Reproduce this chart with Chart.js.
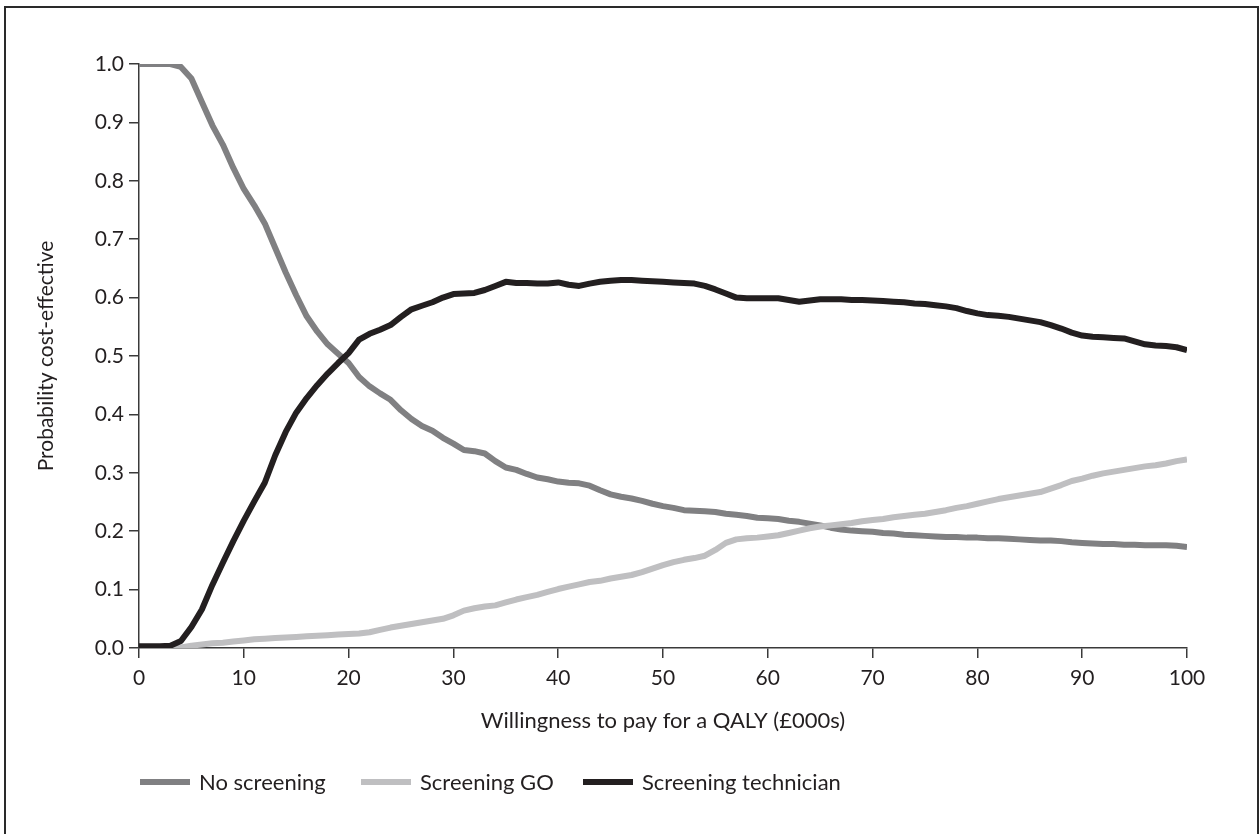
<!DOCTYPE html>
<html>
<head>
<meta charset="utf-8">
<script src="https://cdn.jsdelivr.net/npm/chart.js@4/dist/chart.umd.min.js"></script>
<style>
  html, body { margin: 0; padding: 0; background: #ffffff; overflow: hidden; }
  #wrap { position: relative; width: 1259px; height: 834px; }
  #c { position: absolute; left: 0; top: 0; }
  #frame { position: absolute; left: 4px; top: 6px; width: 1251px; height: 900px;
           border: 2px solid #2a2a2a; border-bottom: none; pointer-events: none; }
</style>
</head>
<body>
<div id="wrap">
  <canvas id="c" width="1259" height="834"></canvas>
  <div id="frame"></div>
</div>
<script>
// Willingness to pay for a QALY (£000s)
const wtp = [0,1,2,3,4,5,6,7,8,9,10,11,12,13,14,15,16,17,18,19,20,21,22,23,24,25,26,27,28,29,30,31,32,33,34,35,36,37,38,39,40,41,42,43,44,45,46,47,48,49,50,51,52,53,54,55,56,57,58,59,60,61,62,63,64,65,66,67,68,69,70,71,72,73,74,75,76,77,78,79,80,81,82,83,84,85,86,87,88,89,90,91,92,93,94,95,96,97,98,99,100];

const noScreening = [1.0,1.0,1.0,1.0,0.995,0.975,0.935,0.895,0.862,0.822,0.786,0.758,0.727,0.685,0.643,0.604,0.568,0.542,0.520,0.504,0.488,0.464,0.448,0.436,0.425,0.407,0.392,0.380,0.372,0.360,0.350,0.339,0.337,0.333,0.320,0.309,0.305,0.298,0.292,0.289,0.285,0.283,0.282,0.278,0.270,0.263,0.259,0.256,0.252,0.247,0.243,0.240,0.236,0.235,0.234,0.233,0.230,0.228,0.226,0.223,0.222,0.221,0.218,0.216,0.213,0.210,0.206,0.203,0.201,0.200,0.199,0.197,0.196,0.194,0.193,0.192,0.191,0.190,0.190,0.189,0.189,0.188,0.188,0.187,0.186,0.185,0.184,0.184,0.183,0.181,0.180,0.179,0.178,0.178,0.177,0.177,0.176,0.176,0.176,0.175,0.173];

const screeningGO = [0,0,0,0,0.001,0.004,0.006,0.008,0.009,0.011,0.013,0.015,0.016,0.017,0.018,0.019,0.020,0.021,0.022,0.023,0.024,0.025,0.027,0.031,0.035,0.038,0.041,0.044,0.047,0.050,0.056,0.064,0.068,0.071,0.073,0.078,0.083,0.087,0.091,0.096,0.101,0.105,0.109,0.113,0.115,0.119,0.122,0.125,0.130,0.136,0.142,0.147,0.151,0.154,0.158,0.168,0.180,0.186,0.188,0.189,0.191,0.193,0.197,0.201,0.205,0.208,0.210,0.212,0.214,0.217,0.219,0.221,0.224,0.226,0.228,0.230,0.233,0.236,0.240,0.243,0.247,0.251,0.255,0.258,0.261,0.264,0.267,0.273,0.279,0.286,0.290,0.295,0.299,0.302,0.305,0.308,0.311,0.313,0.316,0.320,0.323];

const screeningTech = [0.003,0.003,0.003,0.004,0.012,0.036,0.066,0.108,0.146,0.183,0.218,0.251,0.283,0.330,0.370,0.403,0.428,0.450,0.470,0.488,0.505,0.528,0.538,0.545,0.553,0.567,0.580,0.586,0.592,0.600,0.606,0.607,0.608,0.613,0.620,0.627,0.625,0.625,0.624,0.624,0.626,0.622,0.620,0.624,0.627,0.629,0.630,0.630,0.629,0.628,0.627,0.626,0.625,0.624,0.620,0.614,0.607,0.600,0.599,0.599,0.599,0.599,0.596,0.593,0.595,0.597,0.597,0.597,0.596,0.596,0.595,0.594,0.593,0.592,0.590,0.589,0.587,0.585,0.582,0.577,0.573,0.570,0.569,0.567,0.564,0.561,0.558,0.553,0.547,0.540,0.535,0.533,0.532,0.531,0.530,0.525,0.520,0.518,0.517,0.515,0.510];

const seriesNames = ["No screening", "Screening GO", "Screening technician"];
const xTicks = [0,10,20,30,40,50,60,70,80,90,100];
const yTicks = [0.0,0.1,0.2,0.3,0.4,0.5,0.6,0.7,0.8,0.9,1.0];
const xTitle = "Willingness to pay for a QALY (£000s)";
const yTitle = "Probability cost-effective";

const FONT = "Lato, 'Open Sans', sans-serif";
const colors = ["#808082", "#bfbfc1", "#231f20"];

function pts(ys) { return wtp.map((x, i) => ({ x: x, y: ys[i] })); }

const legendPlugin = {
  id: 'customLegend',
  afterDraw(chart) {
    const ctx = chart.ctx;
    const starts = [140, 361, 583];
    const yMid = 782;
    ctx.save();
    ctx.font = "22px " + FONT;
    ctx.textBaseline = 'middle';
    ctx.textAlign = 'left';
    chart.data.datasets.forEach((ds, i) => {
      const x0 = starts[i];
      ctx.fillStyle = ds.borderColor;
      ctx.fillRect(x0, yMid - 3, 50, 6);
      ctx.fillStyle = '#231f20';
      ctx.fillText(ds.label, x0 + 59, yMid + 1);
    });
    ctx.restore();
  }
};

new Chart(document.getElementById('c'), {
  type: 'line',
  data: {
    datasets: [
      { label: seriesNames[0], data: pts(noScreening), borderColor: colors[0], backgroundColor: colors[0], order: 2 },
      { label: seriesNames[1], data: pts(screeningGO), borderColor: colors[1], backgroundColor: colors[1], order: 1 },
      { label: seriesNames[2], data: pts(screeningTech), borderColor: colors[2], backgroundColor: colors[2], order: 0 }
    ]
  },
  options: {
    responsive: false,
    animation: false,
    devicePixelRatio: 1,
    elements: {
      line: { borderWidth: 6, tension: 0, borderCapStyle: 'butt', borderJoinStyle: 'round', fill: false },
      point: { radius: 0, hoverRadius: 0 }
    },
    layout: { padding: { left: 0, top: 64, right: 72, bottom: 66 } },
    plugins: { legend: { display: false }, tooltip: { enabled: false } },
    scales: {
      x: {
        type: 'linear', min: 0, max: 100,
        afterBuildTicks: (s) => { s.ticks = xTicks.map(v => ({ value: v })); },
        afterFit: (s) => { s.height = 120; },
        grid: { drawOnChartArea: false, drawTicks: true, tickLength: 10, color: '#3a3a3a', lineWidth: 1.5 },
        border: { display: true, color: '#3a3a3a', width: 1.5 },
        ticks: { color: '#231f20', font: { family: FONT, size: 21 }, padding: 8, maxRotation: 0,
                 callback: (v) => String(v) },
        title: { display: true, text: xTitle, color: '#231f20', font: { family: FONT, size: 22 },
                 padding: { top: 0, bottom: 34 } }
      },
      y: {
        type: 'linear', min: 0, max: 1,
        afterBuildTicks: (s) => { s.ticks = yTicks.map(v => ({ value: v })); },
        afterFit: (s) => { s.width = 139; },
        grid: { drawOnChartArea: false, drawTicks: true, tickLength: 10, color: '#3a3a3a', lineWidth: 1.5 },
        border: { display: true, color: '#3a3a3a', width: 1.5 },
        ticks: { color: '#231f20', font: { family: FONT, size: 21 }, padding: 5,
                 callback: (v) => Number(v).toFixed(1) },
        title: { display: true, text: yTitle, color: '#231f20', font: { family: FONT, size: 21 },
                 padding: { top: 34, bottom: 0 } }
      }
    }
  },
  plugins: [legendPlugin]
});
</script>
</body>
</html>
